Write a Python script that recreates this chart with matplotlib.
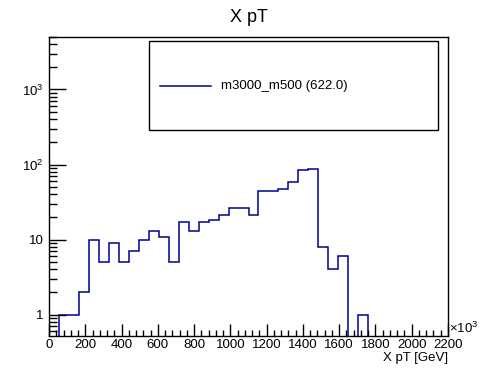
import numpy as np
import matplotlib
matplotlib.use("Agg")
import matplotlib.pyplot as plt
from matplotlib.ticker import FixedLocator, FixedFormatter, LogLocator, NullFormatter

plt.rcParams['font.family'] = ['Liberation Sans', 'DejaVu Sans']
plt.rcParams['mathtext.fontset'] = 'custom'
plt.rcParams['mathtext.rm'] = 'Liberation Sans'
plt.rcParams['mathtext.it'] = 'Liberation Sans'

# 40 bins of 55 GeV from 0 to 2200
edges = np.linspace(0, 2200, 41)
counts = [0, 1, 1, 2, 10, 5, 9, 5, 7, 10,
          13, 11, 5, 17, 13, 17, 18, 21, 26, 26,
          21, 44, 44, 47, 58, 84, 88, 8, 4, 6,
          0, 1, 0, 0, 0, 0, 0, 0, 0, 0]
label = "m3000_m500 (622.0)"
xticks = [0, 200, 400, 600, 800, 1000, 1200, 1400, 1600, 1800, 2000, 2200]

fig = plt.figure(figsize=(4.98, 3.74), dpi=100)
ax = fig.add_axes([49/498, 38/374, 399/498, 299/374])

vals = np.array(counts, dtype=float)
vals[vals == 0] = 1e-6
ax.stairs(vals, edges, color='#000099', lw=1.1, baseline=1e-6)

ax.set_yscale('log')
ax.set_xlim(0, 2200)
ax.set_ylim(0.52, 5000)

ax.xaxis.set_major_locator(FixedLocator(xticks))
ax.xaxis.set_minor_locator(FixedLocator(np.arange(0, 2201, 40)))
ax.set_xticklabels([str(t) for t in xticks])
ax.yaxis.set_major_locator(FixedLocator([1, 10, 100, 1000]))
ax.yaxis.set_major_formatter(FixedFormatter(['1', '10', r'$10^{2}$', r'$10^{3}$']))
ax.yaxis.set_minor_locator(LogLocator(base=10, subs=np.arange(2, 10)))
ax.yaxis.set_minor_formatter(NullFormatter())

ax.tick_params(which='both', direction='in', top=False, right=False, labelsize=9.5, width=1)
ax.tick_params(axis='x', which='major', length=9, pad=2.5)
ax.tick_params(axis='x', which='minor', length=4.5)
ax.tick_params(axis='y', which='major', length=12, pad=4)
ax.tick_params(axis='y', which='minor', length=6)
for s in ax.spines.values():
    s.set_linewidth(1)

fig.text(249/498, 1 - 18/374, "X pT", ha='center', va='center', fontsize=13)
fig.text(448/498, 1 - 352/374, "X pT [GeV]", ha='right', va='top', fontsize=9.5)
fig.text(449/498, 1 - 328/374, r"$\times10^{3}$", ha='left', va='center', fontsize=9.5)

# legend box
box = plt.Rectangle((149/498, 1 - 130/374), 289/498, 89/374, transform=fig.transFigure,
                    fill=True, facecolor='white', edgecolor='black', lw=1)
fig.add_artist(box)
fig.add_artist(plt.Line2D([160/498, 211/498], [1 - 86/374, 1 - 86/374],
                          transform=fig.transFigure, color='#000099', lw=1.1))
fig.text(221/498, 1 - 86/374, label, ha='left', va='center', fontsize=9.5)

fig.savefig("out.png", dpi=100)
